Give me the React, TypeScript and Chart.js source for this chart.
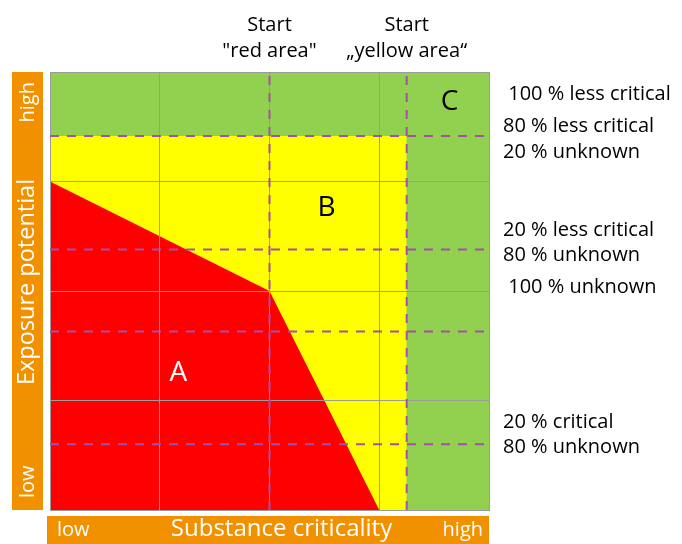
import { useEffect, useRef } from "react";
import { Chart, registerables } from "chart.js";

Chart.register(...registerables);

// Grid: 4 x 4 cells, both axes from 0 (low) to 4 (high)
const axisMax = 4;

// Region boundaries (data units)
const greenArea = [
  { x: 0, y: 4 },
  { x: 4, y: 4 },
];
const yellowArea = [
  { x: 0, y: 3.415 },
  { x: 3.25, y: 3.415 },
];
const redArea = [
  { x: 0, y: 3 },
  { x: 2, y: 2 },
  { x: 3, y: 0 },
];

// Dashed threshold lines
const dashedHorizontalY = [3.415, 2.38, 1.63, 0.6];
const dashedVerticalX = [2, 3.25];

// Region labels
const regionLabels = ["A", "B", "C"];
const regionLabelX = [1.17, 2.52, 3.64];
const regionLabelY = [1.25, 2.76, 3.73];
const regionLabelColors = ["#ffffff", "#000000", "#000000"];

// Top labels at the vertical dashed lines
const topLabelLines = [
  ["Start", "\"red area\""],
  ["Start", "\u201Eyellow area\u201C"],
];

// Right labels
const rightLabels = [
  " 100 % less critical",
  "80 % less critical",
  "20 % unknown",
  "20 % less critical",
  "80 % unknown",
  " 100 % unknown",
  "20 % critical",
  "80 % unknown",
];
const rightLabelY = [3.8, 3.5, 3.265, 2.555, 2.33, 2.03, 0.805, 0.575];

// Axis bar labels
const xAxisLabels = ["low", "Substance criticality", "high"];
const yAxisLabels = ["low", "Exposure potential", "high"];

const FONT = "'Open Sans', 'Noto Sans', sans-serif";
const ORANGE = "#f29100";
const DASH = "#a84ea8";

const overlayPlugin = {
  id: "overlay",
  afterDraw(chart: any) {
    const ctx = chart.ctx as CanvasRenderingContext2D;
    const { left, right, top, bottom } = chart.chartArea;
    const xs = chart.scales.x;
    const ys = chart.scales.y;
    ctx.save();

    // Orange axis bars
    ctx.fillStyle = ORANGE;
    ctx.fillRect(left - 38, top, 31, bottom - top);
    ctx.fillRect(left - 3, bottom + 6, right - left + 3, 40);

    // Bottom bar text
    ctx.fillStyle = "#ffffff";
    ctx.textBaseline = "middle";
    const by = bottom + 20;
    ctx.font = `20px ${FONT}`;
    ctx.textAlign = "left";
    ctx.fillText(xAxisLabels[0], left + 7, by);
    ctx.textAlign = "right";
    ctx.fillText(xAxisLabels[2], right - 6, by);
    ctx.font = `24px ${FONT}`;
    ctx.textAlign = "center";
    ctx.fillText(xAxisLabels[1], (left + right) / 2 + 12, by - 1);

    // Left bar text (rotated)
    ctx.save();
    ctx.translate(left - 22, (top + bottom) / 2);
    ctx.rotate(-Math.PI / 2);
    const half = (bottom - top) / 2;
    ctx.font = `20px ${FONT}`;
    ctx.textAlign = "left";
    ctx.fillText(yAxisLabels[0], -half + 12, 0);
    ctx.textAlign = "right";
    ctx.fillText(yAxisLabels[2], half - 10, 0);
    ctx.font = `23.5px ${FONT}`;
    ctx.textAlign = "center";
    ctx.fillText(yAxisLabels[1], 9, -1);
    ctx.restore();

    // Region labels
    ctx.font = `28px ${FONT}`;
    ctx.textAlign = "center";
    regionLabels.forEach((t, i) => {
      ctx.fillStyle = regionLabelColors[i];
      ctx.fillText(t, xs.getPixelForValue(regionLabelX[i]), ys.getPixelForValue(regionLabelY[i]));
    });

    // Top labels
    ctx.fillStyle = "#000000";
    ctx.font = `20px ${FONT}`;
    topLabelLines.forEach((lines, i) => {
      const px = xs.getPixelForValue(dashedVerticalX[i]);
      lines.forEach((t, j) => {
        ctx.fillText(t, px, top - 47 + j * 26);
      });
    });

    // Right labels
    ctx.font = `20px ${FONT}`;
    ctx.textAlign = "left";
    rightLabels.forEach((t, i) => {
      ctx.fillText(t, right + 14, ys.getPixelForValue(rightLabelY[i]));
    });

    ctx.restore();
  },
};

export default function App() {
  const canvasRef = useRef<HTMLCanvasElement | null>(null);

  useEffect(() => {
    if (!canvasRef.current) return;
    const dashed: any[] = [];
    dashedHorizontalY.forEach((v) => {
      dashed.push({
        data: [
          { x: 0, y: v },
          { x: axisMax, y: v },
        ],
        showLine: true,
        borderColor: DASH,
        borderWidth: 2,
        borderDash: [9, 8],
        pointRadius: 0,
        fill: false,
        order: 0,
      });
    });
    dashedVerticalX.forEach((v) => {
      dashed.push({
        data: [
          { x: v, y: 0 },
          { x: v, y: axisMax },
        ],
        showLine: true,
        borderColor: DASH,
        borderWidth: 2,
        borderDash: [9, 8],
        pointRadius: 0,
        fill: false,
        order: 0,
      });
    });

    const chart = new Chart(canvasRef.current, {
      type: "scatter",
      data: {
        datasets: [
          {
            data: redArea,
            showLine: true,
            borderWidth: 0,
            borderColor: "rgba(0,0,0,0)",
            backgroundColor: "#ff0000",
            fill: "origin",
            pointRadius: 0,
            tension: 0,
            order: 1,
          },
          {
            data: yellowArea,
            showLine: true,
            borderWidth: 0,
            borderColor: "rgba(0,0,0,0)",
            backgroundColor: "#ffff00",
            fill: "origin",
            pointRadius: 0,
            order: 2,
          },
          {
            data: greenArea,
            showLine: true,
            borderWidth: 0,
            borderColor: "rgba(0,0,0,0)",
            backgroundColor: "#92d050",
            fill: "origin",
            pointRadius: 0,
            order: 3,
          },
          ...dashed,
        ] as any,
      },
      options: {
        animation: false,
        responsive: false,
        devicePixelRatio: 1,
        layout: { padding: { left: 50, top: 72, right: 193, bottom: 34 } },
        plugins: {
          legend: { display: false },
          tooltip: { enabled: false },
          filler: { drawTime: "beforeDraw" } as any,
        },
        scales: {
          x: {
            type: "linear",
            min: 0,
            max: axisMax,
            ticks: { display: false, stepSize: 1 },
            grid: { color: "#9b9b9b", lineWidth: 1, drawTicks: false, tickLength: 0 },
            border: { display: true, color: "#9b9b9b" },
          },
          y: {
            type: "linear",
            min: 0,
            max: axisMax,
            ticks: { display: false, stepSize: 1 },
            grid: { color: "#9b9b9b", lineWidth: 1, drawTicks: false, tickLength: 0 },
            border: { display: true, color: "#9b9b9b" },
          },
        },
      },
      plugins: [overlayPlugin],
    });
    return () => chart.destroy();
  }, []);

  return (
    <div style={{ position: "absolute", left: 0, top: 0, width: 682, height: 544, background: "#ffffff" }}>
      <canvas ref={canvasRef} width={682} height={544} style={{ display: "block" }} />
    </div>
  );
}
